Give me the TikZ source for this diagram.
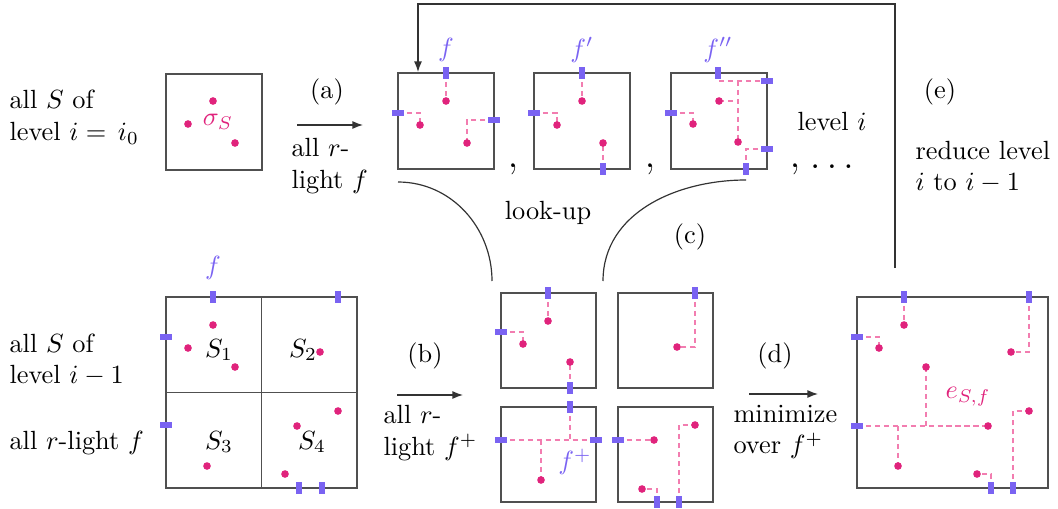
\documentclass[tikz,border=0pt]{standalone}
\usepackage{amsmath}
\usetikzlibrary{arrows.meta,positioning,backgrounds}
\definecolor{dotMag}{HTML}{E0237C}
\definecolor{wirePink}{HTML}{F27DB0}
\definecolor{portBlue}{HTML}{7A63F2}
\definecolor{boxGray}{HTML}{505050}

\begin{document}
\begin{tikzpicture}[x=0.38pt, y=-0.38pt, >={Latex[length=4pt,width=3pt]},
  box/.style={draw=boxGray, line width=0.45pt, minimum size=36.5pt, inner sep=0pt},
  bigbox/.style={box, minimum size=72.6pt},
  smallbox/.style={box, minimum size=36.1pt},
  portv/.style={fill=portBlue, minimum width=2pt, minimum height=4.3pt, inner sep=0pt},
  porth/.style={fill=portBlue, minimum width=4.3pt, minimum height=2pt, inner sep=0pt},
  dot/.style={circle, fill=dotMag, minimum size=2.9pt, inner sep=0pt},
  wire/.style={wirePink, line width=0.45pt, dash pattern=on 2pt off 1.4pt},
  flabel/.style={text=portBlue},
  txt/.style={align=left, anchor=west, inner sep=0pt},
  conn/.style={line width=0.45pt, black!80}]
\useasboundingbox (0,0) rectangle (1058,508);

% ---- top row: level i = i_0
\node[txt] (t1) at (9,117) {all $S$ of\\ level $i=\,i_0$};
\node[box] (bs) at (214,122) {};
\node[dot] (s1) at (213,101) {};
\node[dot] (s2) at (188,124) {};
\node[dot] (s3) at (235,143) {};
\node[text=dotMag] (sig) at (218,122) {$\sigma_S$};

% step (a)
\coordinate (a0) at (297,125);
\coordinate (a1) at (363,125);
\draw[conn,->] (a0) -- (a1);
\node (la) at (327,92) {(a)};
\node[txt] (ta) at (291,166) {all $r$-\\ light $f$};

% box f
\node[box] (bf) at (446,121) {};
\node[portv] (fp1) at (446,73) {};
\node[porth] (fp2) at (398,113) {};
\node[porth] (fp3) at (494,120) {};
\node[dot] (fd1) at (446,101) {};
\node[dot] (fd2) at (420,125) {};
\node[dot] (fd3) at (467,143) {};
\node[flabel] (lf) at (446,50) {$f$};
\begin{scope}[on background layer]
  \draw[wire] (fp1.center) -- (fd1.center);
  \draw[wire] (fp2.center) -| (fd2.center);
  \draw[wire] (fp3.center) -| (fd3.center);
\end{scope}
\node[anchor=base] (c1) at (513,167) {\Large$,$};

% box f'
\node[box] (bf1) at (582,121) {};
\node[portv] (gp1) at (582,73) {};
\node[porth] (gp2) at (534,113) {};
\node[portv] (gp3) at (603,169) {};
\node[dot] (gd1) at (582,101) {};
\node[dot] (gd2) at (557,125) {};
\node[dot] (gd3) at (603,143) {};
\node[flabel] (lf1) at (582,50) {$f'$};
\begin{scope}[on background layer]
  \draw[wire] (gp1.center) -- (gd1.center);
  \draw[wire] (gp2.center) -| (gd2.center);
  \draw[wire] (gp3.center) -- (gd3.center);
\end{scope}
\node[anchor=base] (c2) at (650,167) {\Large$,$};

% box f''
\node[box] (bf2) at (719,121) {};
\node[portv] (hp1) at (718,73) {};
\node[porth] (hp2) at (767,81) {};
\node[porth] (hp3) at (671,113) {};
\node[porth] (hp4) at (767,149) {};
\node[portv] (hp5) at (746,169) {};
\node[dot] (hd1) at (719,101) {};
\node[dot] (hd2) at (693,124) {};
\node[dot] (hd3) at (738,142) {};
\node[flabel] (lf2) at (718,50) {$f''$};
\begin{scope}[on background layer]
  \draw[wire] (hp1.center) |- (hp2.center);
  \draw[wire] (hd3 |- hp2) -- (hd3.center);
  \draw[wire] (hd1.center) -- (hd1 -| hd3);
  \draw[wire] (hp3.center) -| (hd2.center);
  \draw[wire] (hp5.center) |- (hp4.center);
\end{scope}
\node[anchor=base] (c3) at (795,167) {\Large$,$};
\node[anchor=base] (c4) at (832,168) {\Large$\ldots$};
\node (lvl) at (832,122) {level $i$};

% step (e): back to the top
\coordinate (e0) at (895,268);
\coordinate (e1) at (418,4);
\coordinate (e2) at (418,72);
\draw[conn,->] (e0) |- (e1) -- (e2);
\node (le) at (940,92) {(e)};
\node[txt] (te) at (915,167) {reduce level\\ $i$ to $i-1$};

% look-up curves, step (c)
\coordinate (k0) at (398,182);
\coordinate (k1) at (492,281);
\coordinate (k2) at (603,281);
\coordinate (k3) at (746,180);
\draw[conn] (k0) to[out=0, in=90] (k1);
\draw[conn] (k2) to[out=90, in=180] (k3);
\node (lk) at (548,213) {look-up};
\node (lc) at (690,237) {(c)};

% ---- bottom row: level i-1
\node[txt] (t2) at (9,360) {all $S$ of\\ level $i-1$};
\node[txt] (t3) at (9,443) {all $r$-light $f$};
\node[bigbox] (bg) at (261.5,392.5) {};
\draw[boxGray, line width=0.45pt] (bg.north) -- (bg.south);
\draw[boxGray, line width=0.45pt] (bg.west) -- (bg.east);
\node[portv] (kp1) at (213,297) {};
\node[portv] (kp2) at (338,297) {};
\node[porth] (kp3) at (166,337) {};
\node[porth] (kp4) at (166,425) {};
\node[portv] (kp5) at (299,488) {};
\node[portv] (kp6) at (322,488) {};
\foreach \n/\x/\y in {q1/213/325, q2/188/348, q3/235/367, q4/320/352,
                       q5/338/411, q6/297/426, q7/285/474, q8/207/466}
  \node[dot] (\n) at (\x,\y) {};
\node (S1) at (219,350) {$S_1$};
\node (S2) at (303,350) {$S_2$};
\node (S3) at (219,442) {$S_3$};
\node (S4) at (312,442) {$S_4$};
\node[flabel] (lg) at (213,268) {$f$};

% step (b)
\coordinate (b0) at (397,395);
\coordinate (b1) at (463,395);
\draw[conn,->] (b0) -- (b1);
\node (lb) at (425,356) {(b)};
\node[txt] (tb) at (383,433) {all $r$-\\ light $f^+$};

% four boxes of f^+
\node[smallbox] (m1) at (548.5,340.5) {};
\node[smallbox] (m2) at (665.5,340.5) {};
\node[smallbox] (m3) at (548.5,454.5) {};
\node[smallbox] (m4) at (665.5,454.5) {};
\node[portv] (ap1) at (548,293) {};
\node[porth] (ap2) at (501,332) {};
\node[portv] (ap3) at (570,388) {};
\node[dot] (ad1) at (548,321) {};
\node[dot] (ad2) at (523,344) {};
\node[dot] (ad3) at (570,362) {};
\node[portv] (bp1) at (695,293) {};
\node[dot] (bd1) at (677,347) {};
\node[portv] (cp1) at (570,407) {};
\node[porth] (cp2) at (501,440) {};
\node[porth] (cp3) at (596,440) {};
\node[dot] (cd1) at (541,480) {};
\node[porth] (ep1) at (618,440) {};
\node[portv] (ep2) at (657,502) {};
\node[portv] (ep3) at (679,502) {};
\node[dot] (ed1) at (654,440) {};
\node[dot] (ed2) at (695,425) {};
\node[dot] (ed3) at (642,489) {};
\node[flabel] (lfp) at (575,462) {$f^+$};
\begin{scope}[on background layer]
  \draw[wire] (ap1.center) -- (ad1.center);
  \draw[wire] (ap2.center) -| (ad2.center);
  \draw[wire] (ap3.center) -- (ad3.center);
  \draw[wire] (bp1.center) |- (bd1.center);
  \draw[wire] (cp2.center) -- (cp3.center);
  \draw[wire] (cp1.center) -- (cp1 |- cp2);
  \draw[wire] (cd1 |- cp2) -- (cd1.center);
  \draw[wire] (ep1.center) -- (ed1.center);
  \draw[wire] (ep3.center) |- (ed2.center);
  \draw[wire] (ep2.center) |- (ed3.center);
\end{scope}

% step (d)
\coordinate (d0) at (749,394);
\coordinate (d1) at (818,394);
\draw[conn,->] (d0) -- (d1);
\node (ld) at (775,356) {(d)};
\node[txt] (td) at (733,432) {minimize\\ over $f^+$};

% result box e_{S,f}
\node[bigbox] (br) at (952.5,392.5) {};
\node[portv] (rp1) at (904,297) {};
\node[portv] (rp2) at (1029,297) {};
\node[porth] (rp3) at (857,337) {};
\node[porth] (rp4) at (857,426) {};
\node[portv] (rp5) at (991,488) {};
\node[portv] (rp6) at (1013,488) {};
\foreach \n/\x/\y in {r1/904/325, r2/879/348, r3/1011/352, r4/926/367,
                       r5/1029/411, r6/988/426, r7/898/466, r8/977/474}
  \node[dot] (\n) at (\x,\y) {};
\node[text=dotMag] (les) at (968,397) {$e_{S,f}$};
\begin{scope}[on background layer]
  \draw[wire] (rp1.center) -- (r1.center);
  \draw[wire] (rp3.center) -| (r2.center);
  \draw[wire] (rp2.center) |- (r3.center);
  \draw[wire] (rp4.center) -- (r6.center);
  \draw[wire] (r4.center) -- (r4 |- r6);
  \draw[wire] (r7 |- r6) -- (r7.center);
  \draw[wire] (rp6.center) |- (r5.center);
  \draw[wire] (rp5.center) |- (r8.center);
\end{scope}
\end{tikzpicture}
\end{document}
